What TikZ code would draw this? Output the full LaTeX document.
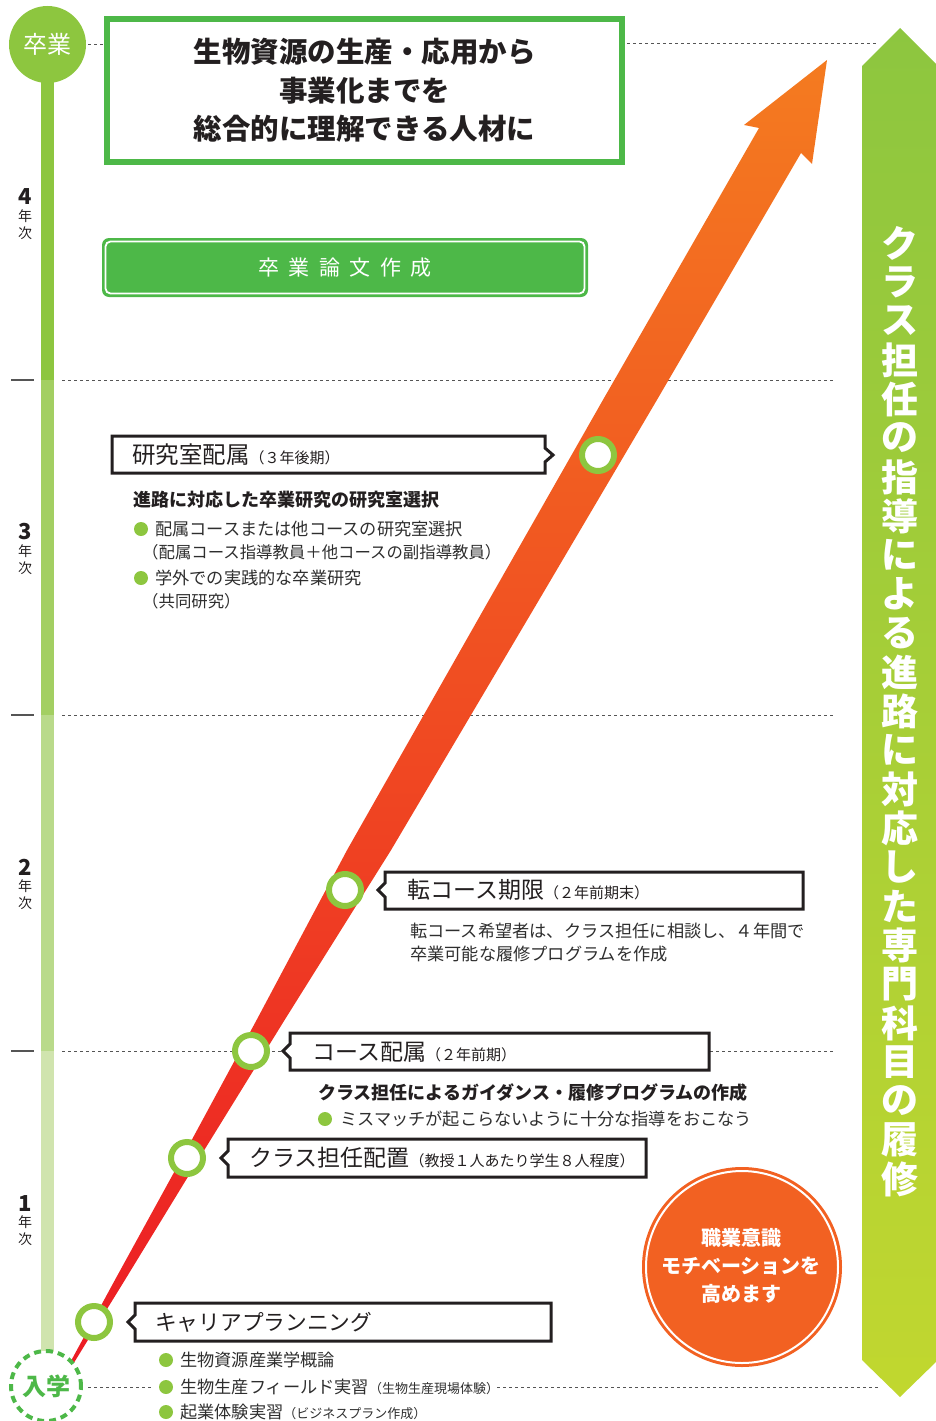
\documentclass[tikz,border=0pt]{standalone}
\usepackage{fontspec}
\setmainfont{Noto Sans CJK JP}
\definecolor{ink}{HTML}{231F20}
\definecolor{bodyc}{HTML}{2E2E2E}
\definecolor{ringg}{HTML}{8DC63F}
\definecolor{tgreen}{HTML}{4DB848}
\definecolor{barA}{HTML}{8DC63F}
\definecolor{barB}{HTML}{A3CF62}
\definecolor{barC}{HTML}{B9DA8A}
\definecolor{barD}{HTML}{D0E4AE}
\definecolor{dgray}{HTML}{555555}
\definecolor{bannerTop}{HTML}{8DC63F}
\definecolor{bannerBot}{HTML}{C1D72F}
\definecolor{arrTop}{HTML}{F47B20}
\definecolor{arrMid}{HTML}{F04E23}
\definecolor{arrBot}{HTML}{EC1C24}
\definecolor{orangeC}{HTML}{F26122}
\begin{document}
\begin{tikzpicture}[x=1pt,y=-1pt,
  lbl/.style={anchor=west,inner sep=0pt,text=ink},
  bodytxt/.style={anchor=west,inner sep=0pt,text=bodyc,font=\fontsize{17.2}{20}\selectfont},
  boldtxt/.style={anchor=west,inner sep=0pt,text=ink,font=\bfseries\fontsize{18}{20}\selectfont},
  ring/.style={circle,draw=ringg,line width=6pt,fill=white,minimum size=32pt,inner sep=0pt},
  tagbox/.style={draw=ink,line width=3pt,fill=white,line join=miter},
  dline/.style={draw=dgray,line width=1pt,dash pattern=on 3pt off 3pt},
  yrtick/.style={draw=dgray,line width=1.5pt},
  bdot/.style={circle,fill=ringg,minimum size=14pt,inner sep=0pt},
  yrnum/.style={inner sep=0pt,text=ink,font=\bfseries\fontsize{22}{22}\selectfont},
  yrchar/.style={inner sep=0pt,text=ink,font=\fontsize{14}{14}\selectfont},
  vchar/.style={inner sep=0pt,text=white,font=\bfseries\fontsize{37}{37}\selectfont},
  subfs/.style={},
]
\useasboundingbox (0,0) rectangle (936,1421);

% timeline bar
\fill[barA] (41,80) rectangle (54,380);
\fill[barB] (41,380) rectangle (54,715);
\fill[barC] (41,715) rectangle (54,1051);
\fill[barD] (41,1051) rectangle (54,1352);

% ticks and dashed guides
\foreach \yy in {380,715,1051}{
  \draw[yrtick] (11,\yy) -- (34,\yy);
  \draw[dline] (62,\yy) -- (833,\yy);
}
\draw[dline] (88,45) -- (104,45);
\draw[dline] (627,44) -- (878,44);
\draw[dline] (88,1387) -- (152,1387);
\draw[dline] (497,1387) -- (878,1387);

% year labels
\foreach \n/\yy in {4/197,3/532,2/867,1/1203}{
  \node[yrnum] at (25,\yy) {\n};
  \node[yrchar] at (25,\yy+19) {年};
  \node[yrchar] at (25,\yy+36) {次};
}

% right banner
\shade[top color=bannerTop,bottom color=bannerBot]
  (862,66) -- (900,28) -- (938,66) -- (938,1360) -- (900,1397) -- (862,1360) -- cycle;
\foreach \c [count=\i from 0] in {ク,ラ,ス,担,任,の,指,導,に,よ,る,進,路,に,対,応,し,た,専,門,科,目,の,履,修}{
  \node[vchar] (v\i) at (900,243+39*\i) {\c};
}

% big arrow
\shade[top color=arrTop,middle color=arrMid,bottom color=arrBot]
  (70.4,1362) -- (114.9,1280) -- (186.3,1150) -- (256.6,1020) -- (347.1,850)
  -- (489,600) -- (602.9,400) -- (759,128) -- (744,125) -- (827,60)
  -- (812,164) -- (801,153) -- (656.9,400) -- (539,600) -- (391.1,850)
  -- (284.6,1020) -- (204.3,1150) -- (124.9,1280) -- (74.4,1362) -- cycle;

% graduation / entrance circles
\node[circle,fill=barA,minimum size=77pt,inner sep=0pt,text=white,
  font=\fontsize{24}{24}\selectfont] (grad) at (47.5,44.5) {卒業};
\node[circle,draw=tgreen,line width=4pt,dash pattern=on 7pt off 5pt,fill=white,
  minimum size=70pt,inner sep=0pt,text=tgreen,font=\bfseries\fontsize{24}{24}\selectfont]
  (ent) at (46,1386) {入学};

% title box
\node[draw=tgreen,line width=6pt,fill=white,minimum width=515pt,minimum height=143pt,
  align=center,text=ink,font=\bfseries\fontsize{28.5}{38.5}\selectfont]
  (title) at (364.5,90.5) {生物資源の生産・応用から\\事業化までを\\総合的に理解できる人材に};

% thesis box
\fill[tgreen,rounded corners=7pt] (102,238) rectangle (588,297);
\draw[white,line width=1.8pt,rounded corners=5pt] (105.5,241.5) rectangle (584.5,293.5);
\node[text=white,inner sep=0pt,font=\fontsize{21}{21}\selectfont] (thesis) at (345,268)
  {卒\kern9.6pt 業\kern9.6pt 論\kern9.6pt 文\kern9.6pt 作\kern9.6pt 成};

% tag boxes
\draw[tagbox] (112,436) -- (545,436) -- (545,448) -- (553,455) -- (545,462) -- (545,473) -- (112,473) -- cycle;
\draw[tagbox] (385,872) -- (803,872) -- (803,909) -- (385,909) -- (385,897) -- (378,890) -- (385,883) -- cycle;
\draw[tagbox] (290,1033) -- (709,1033) -- (709,1070) -- (290,1070) -- (290,1058) -- (283,1051) -- (290,1044) -- cycle;
\draw[tagbox] (228,1139) -- (646,1139) -- (646,1177) -- (228,1177) -- (228,1165) -- (221,1158) -- (228,1151) -- cycle;
\draw[tagbox] (135,1303) -- (551,1303) -- (551,1341) -- (135,1341) -- (135,1329) -- (128,1322) -- (135,1315) -- cycle;

\node[lbl] (t1) at (132,455) {{\fontsize{23.5}{23}\selectfont 研究室配属}{\fontsize{15}{15}\selectfont （３年後期）}};
\node[lbl] (t2) at (407,890) {{\fontsize{23}{23}\selectfont 転コース期限}{\fontsize{15}{15}\selectfont （２年前期末）}};
\node[lbl] (t3) at (312,1052) {{\fontsize{23}{23}\selectfont コース配属}{\fontsize{15}{15}\selectfont （２年前期）}};
\node[lbl] (t4) at (249,1158) {{\fontsize{23}{23}\selectfont クラス担任配置}{\fontsize{15}{15}\selectfont （教授１人あたり学生８人程度）}};
\node[lbl] (t5) at (155,1322) {{\fontsize{21.7}{22}\selectfont キャリアプランニング}};

% rings on arrow
\node[ring] (r1) at (598,455) {};
\node[ring] (r2) at (345,890) {};
\node[ring] (r3) at (251,1051) {};
\node[ring] (r4) at (187,1158) {};
\node[ring] (r5) at (94,1322) {};

% year 3 text
\node[boldtxt] (b1) at (133,500) {進路に対応した卒業研究の研究室選択};
\node[bdot] (d1) at (141,529) {};
\node[bodytxt] (s1) at (155,529) {配属コースまたは他コースの研究室選択};
\node[bodytxt,font=\fontsize{16.4}{20}\selectfont] (s2) at (142,552) {（配属コース指導教員＋他コースの副指導教員）};
\node[bdot] (d2) at (141,578) {};
\node[bodytxt] (s3) at (155,578) {学外での実践的な卒業研究};
\node[bodytxt,font=\fontsize{16.4}{20}\selectfont] (s4) at (142,601) {（共同研究）};

% transfer text
\node[bodytxt] (s5) at (410,931) {転コース希望者は、クラス担任に相談し、４年間で};
\node[bodytxt] (s6) at (410,954) {卒業可能な履修プログラムを作成};

% course assignment text
\node[boldtxt] (b2) at (318,1093) {クラス担任によるガイダンス・履修プログラムの作成};
\node[bdot] (d3) at (325,1119) {};
\node[bodytxt] (s7) at (340,1119) {ミスマッチが起こらないように十分な指導をおこなう};

% career planning text
\node[bdot] (d4) at (166,1360) {};
\node[bodytxt] (s8) at (180,1360) {生物資源産業学概論};
\node[bdot] (d5) at (166,1387) {};
\node[bodytxt] (s9) at (180,1387) {生物生産フィールド実習{\fontsize{13}{13}\selectfont （生物生産現場体験）}};
\node[bdot] (d6) at (166,1412) {};
\node[bodytxt] (s10) at (180,1412) {起業体験実習{\fontsize{13}{13}\selectfont （ビジネスプラン作成）}};

% orange circle
\fill[orangeC] (742,1267) circle (100pt);
\draw[white,line width=2pt] (742,1267) circle (96pt);
\node[align=center,text=white,inner sep=0pt,font=\bfseries\fontsize{20}{28}\selectfont]
  (moti) at (741,1266) {職業意識\\モチベーションを\\高めます};
\end{tikzpicture}
\end{document}
